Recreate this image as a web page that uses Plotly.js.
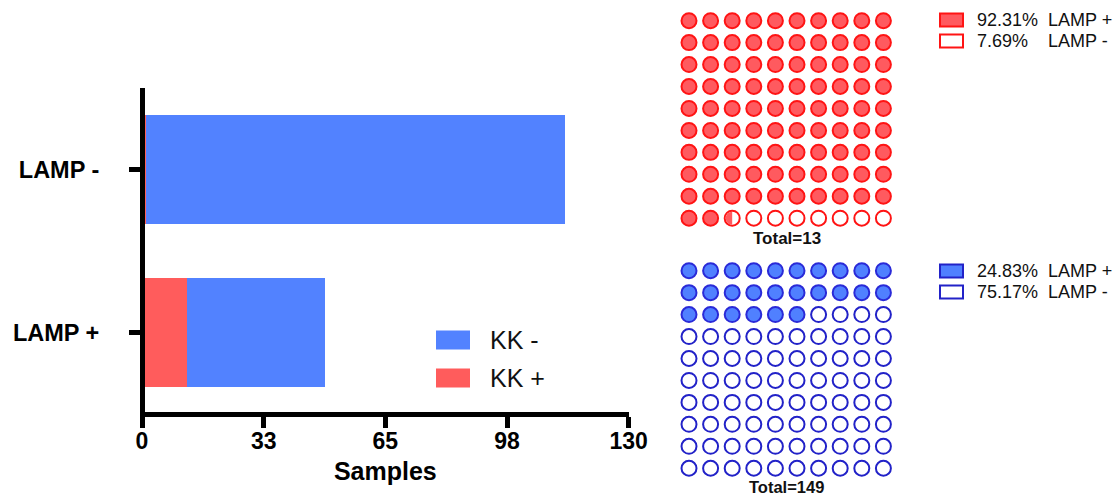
<!DOCTYPE html>
<html>
<head>
<meta charset="utf-8">
<script src="https://cdn.plot.ly/plotly-3.0.1.min.js"></script>
<style>html,body{margin:0;padding:0;background:#fff}#chart{width:1117px;height:497px}</style>
</head>
<body>
<div id="chart"></div>
<script>
// ---- data ----
const categories = ["LAMP +", "LAMP -"];
const seriesNames = ["KK +", "KK -"];
const kkPlus = [12, 1];     // KK + samples per LAMP category
const kkMinus = [37, 112];  // KK - samples per LAMP category
const xTickVals = [0, 32.5, 65, 97.5, 130];
const xTickText = ["0", "33", "65", "98", "130"];
// waffle cells (out of 100)
const waffleFull = [92, 26];   // fully filled circles: KK+ waffle, KK- waffle
const waffleHalf = [1, 0];     // half filled circles
const waffleLegendLabels = ["LAMP +", "LAMP -"];

const W = 1117, H = 497;
const px = v => v / W;
const py = v => 1 - v / H;
const FONT = "Arial, 'Liberation Sans', sans-serif";

const redBar = "#FF5C5C", blueBar = "#5282FF";
const redFill = "#FF5A5F", redLine = "#FF1414";
const blueFill = "#5080FF", blueLine = "#2A2AD8", blueOpen = "#2222C8";

function sum(a){return a.reduce((s,v)=>s+v,0);}
const totals = [sum(kkPlus), sum(kkMinus)];
const pctTop = [kkPlus[0]/totals[0]*100, kkPlus[1]/totals[0]*100];
const pctBot = [kkMinus[0]/totals[1]*100, kkMinus[1]/totals[1]*100];

function waffleCells(nFull, nHalf){
  const full = {x:[],y:[]}, open = {x:[],y:[]}, half = [];
  for(let i=0;i<100;i++){
    const r = Math.floor(i/10), c = i%10;
    if(i < nFull){ full.x.push(c); full.y.push(r); }
    else { open.x.push(c); open.y.push(r); if(i < nFull + nHalf) half.push([c,r]); }
  }
  return {full, open, half};
}
const wTop = waffleCells(waffleFull[0], waffleHalf[0]);
const wBot = waffleCells(waffleFull[1], waffleHalf[1]);

const MS = 15, MLW = 2;
const data = [
  {type:"bar", orientation:"h", name:seriesNames[0], y:categories, x:kkPlus,
   marker:{color:redBar, line:{width:0}}, xaxis:"x", yaxis:"y"},
  {type:"bar", orientation:"h", name:seriesNames[1], y:categories, x:kkMinus,
   marker:{color:blueBar, line:{width:0}}, xaxis:"x", yaxis:"y"},
  {type:"scatter", mode:"markers", x:wTop.full.x, y:wTop.full.y, xaxis:"x2", yaxis:"y2",
   marker:{symbol:"circle", size:MS, color:redFill, line:{color:redLine, width:MLW}}},
  {type:"scatter", mode:"markers", x:wTop.open.x, y:wTop.open.y, xaxis:"x2", yaxis:"y2",
   marker:{symbol:"circle", size:MS, color:"#ffffff", line:{color:redLine, width:MLW}}},
  {type:"scatter", mode:"markers", x:wBot.full.x, y:wBot.full.y, xaxis:"x3", yaxis:"y3",
   marker:{symbol:"circle", size:MS, color:blueFill, line:{color:blueLine, width:MLW}}},
  {type:"scatter", mode:"markers", x:wBot.open.x, y:wBot.open.y, xaxis:"x3", yaxis:"y3",
   marker:{symbol:"circle", size:MS, color:"#ffffff", line:{color:blueOpen, width:MLW}}}
];

const shapes = [], annotations = [];
// y axis line drawn over the bars' base
shapes.push({type:"line", xref:"paper", yref:"paper", x0:px(142.5), x1:px(142.5), y0:py(417), y1:py(88),
  line:{color:"#000", width:5}, layer:"above"});
// half-filled circle (left half)
function halfPath(r){
  const k = 0.5523*r;
  return `M0,${r} C${-k},${r} ${-r},${k} ${-r},0 C${-r},${-k} ${-k},${-r} 0,${-r} Z`;
}
wTop.half.forEach(([c,r])=>shapes.push({type:"path", xref:"x2", yref:"y2", xsizemode:"pixel", ysizemode:"pixel",
  xanchor:c, yanchor:r, path:halfPath(6.5), fillcolor:redFill, line:{width:0}, layer:"above"}));
wBot.half.forEach(([c,r])=>shapes.push({type:"path", xref:"x3", yref:"y3", xsizemode:"pixel", ysizemode:"pixel",
  xanchor:c, yanchor:r, path:halfPath(6.5), fillcolor:blueFill, line:{width:0}, layer:"above"}));

// bar legend (KK - on top)
const barLegend = [{name:seriesNames[1], color:blueBar, y:340}, {name:seriesNames[0], color:redBar, y:378}];
barLegend.forEach(it=>{
  shapes.push({type:"rect", xref:"paper", yref:"paper", x0:px(436), x1:px(470), y0:py(it.y-9.5), y1:py(it.y+9.5),
    fillcolor:it.color, line:{width:0}});
  annotations.push({xref:"paper", yref:"paper", x:px(488), y:py(it.y), xanchor:"left", yanchor:"middle",
    text:it.name, showarrow:false, font:{family:FONT, size:25, color:"#111"}});
});

// waffle legends
function waffleLegend(yc, pcts, fill, line){
  const rows = [{fill:fill, y:yc[0], pct:pcts[0], lab:waffleLegendLabels[0]},
                {fill:"#ffffff", y:yc[1], pct:pcts[1], lab:waffleLegendLabels[1]}];
  rows.forEach(rw=>{
    shapes.push({type:"rect", xref:"paper", yref:"paper", x0:px(940), x1:px(963), y0:py(rw.y-6.5), y1:py(rw.y+6.5),
      fillcolor:rw.fill, line:{color:line, width:2}});
    annotations.push({xref:"paper", yref:"paper", x:px(975), y:py(rw.y), xanchor:"left", yanchor:"middle",
      text:rw.pct.toFixed(2)+"%", showarrow:false, font:{family:FONT, size:18, color:"#111"}});
    annotations.push({xref:"paper", yref:"paper", x:px(1046), y:py(rw.y), xanchor:"left", yanchor:"middle",
      text:rw.lab, showarrow:false, font:{family:FONT, size:18, color:"#111"}});
  });
}
waffleLegend([20, 41], pctTop, redFill, redLine);
waffleLegend([271, 292], pctBot, blueFill, blueOpen);

annotations.push({xref:"paper", yref:"paper", x:px(787), y:py(239), xanchor:"center", yanchor:"middle",
  text:"<b>Total="+totals[0]+"</b>", showarrow:false, font:{family:FONT, size:17, color:"#111"}});
annotations.push({xref:"paper", yref:"paper", x:px(786), y:py(487), xanchor:"center", yanchor:"middle",
  text:"<b>Total="+totals[1]+"</b>", showarrow:false, font:{family:FONT, size:16.5, color:"#111"}});

const hidden = {showgrid:false, zeroline:false, showticklabels:false, ticks:"", showline:false, fixedrange:true};
const layout = {
  width:W, height:H, margin:{l:0,r:0,t:0,b:0}, paper_bgcolor:"#fff", plot_bgcolor:"rgba(0,0,0,0)",
  showlegend:false, barmode:"stack", bargap:0.334,
  font:{family:FONT, color:"#000"},
  xaxis:{domain:[px(142), px(628.7)], range:[0,130], tickvals:xTickVals, ticktext:xTickText,
    showgrid:false, zeroline:false, showline:true, linecolor:"#000", linewidth:5,
    ticks:"outside", ticklen:11, tickwidth:5, tickcolor:"#000", ticklabelstandoff:-7,
    tickfont:{family:FONT, size:23, color:"#000", weight:"bold"},
    title:{text:"<b>Samples</b>", font:{family:FONT, size:25, color:"#000"}, standoff:11}, anchor:"y"},
  yaxis:{domain:[py(412), py(88)], type:"category", range:[-0.488, 1.5], categoryarray:categories,
    showgrid:false, zeroline:false, showline:false,
    ticks:"outside", ticklen:12, tickwidth:5, tickcolor:"#000", ticklabelstandoff:25,
    tickfont:{family:FONT, size:23.5, color:"#000", weight:"bold"}, anchor:"x"},
  xaxis2:Object.assign({domain:[px(678.2), px(894.2)], range:[-0.5,9.5], anchor:"y2"}, hidden),
  yaxis2:Object.assign({domain:[py(229.2), py(9.7)], range:[9.5,-0.5], anchor:"x2"}, hidden),
  xaxis3:Object.assign({domain:[px(678.2), px(894.2)], range:[-0.5,9.5], anchor:"y3"}, hidden),
  yaxis3:Object.assign({domain:[py(479.2), py(259.7)], range:[9.5,-0.5], anchor:"x3"}, hidden),
  shapes:shapes, annotations:annotations
};
Plotly.newPlot("chart", data, layout, {displayModeBar:false, staticPlot:true});
</script>
</body>
</html>
